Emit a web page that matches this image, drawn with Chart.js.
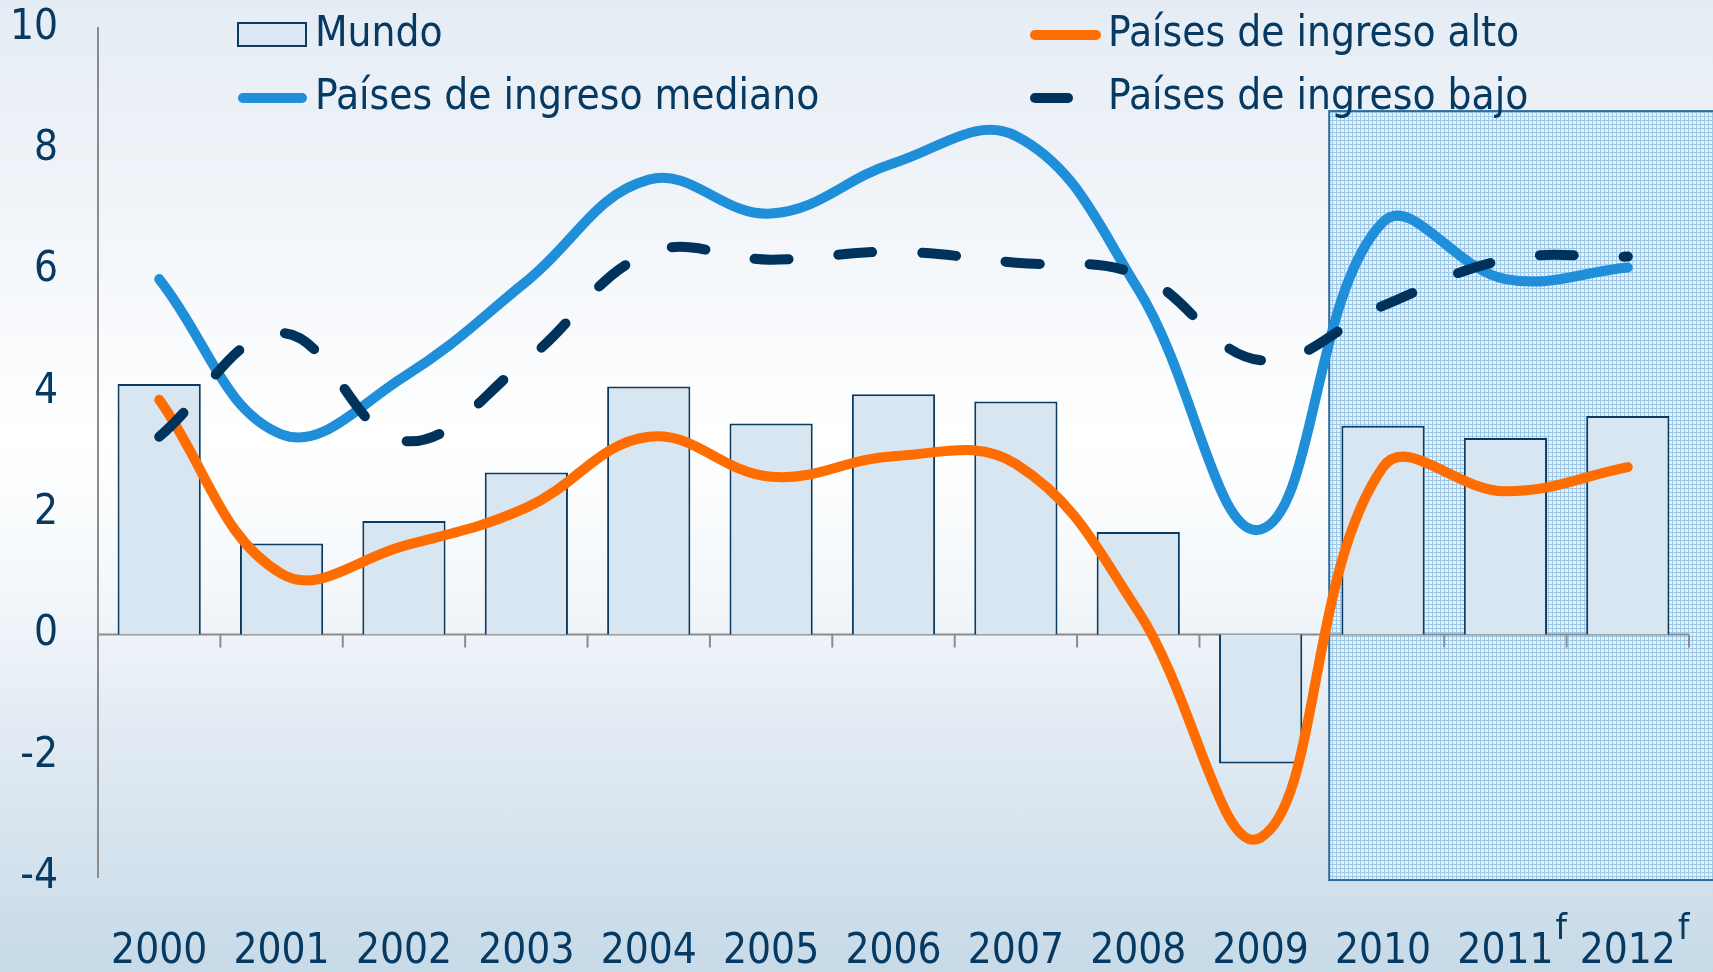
<!DOCTYPE html>
<html lang="es">
<head>
<meta charset="UTF-8">
<title>Crecimiento del PIB</title>
<script src="https://cdn.jsdelivr.net/npm/chart.js@4/dist/chart.umd.min.js"></script>
<style>
  html, body { margin: 0; padding: 0; }
  body {
    width: 1713px; height: 972px; overflow: hidden;
    background: linear-gradient(to bottom, #e5ecf4 0%, #f3f6fa 25%, #ffffff 45%, #f4f8fb 60%, #e2ebf3 75%, #c7dae8 100%);
  }
  canvas { display: block; }
</style>
</head>
<body>
<canvas id="chart" width="1713" height="972"></canvas>
<script>
// --- datos ---
const years = ['2000', '2001', '2002', '2003', '2004', '2005', '2006', '2007', '2008', '2009', '2010', '2011', '2012'];
const forecast = [false, false, false, false, false, false, false, false, false, false, false, true, true];

const mundo   = [4.13, 1.50, 1.87, 2.67, 4.09, 3.48, 3.96, 3.84, 1.69, -2.13, 3.44, 3.24, 3.60];
const alto    = [3.87, 1.00, 1.46, 2.09, 3.26, 2.60, 2.94, 2.81, 0.38, -3.35, 2.76, 2.36, 2.76];
const mediano = [5.86, 3.30, 4.25, 5.82, 7.50, 6.94, 7.77, 8.22, 5.69, 1.73, 6.80, 5.86, 6.05];
const bajo    = [3.26, 4.97, 3.19, 4.52, 6.29, 6.18, 6.31, 6.13, 5.93, 4.52, 5.42, 6.18, 6.23];

const yTicks = [10, 8, 6, 4, 2, 0, -2, -4];

// zona de proyecciones (en unidades de los ejes)
const shadeFrom = 9.56;
const shadeTop = 8.63;
const shadeBottom = -4.05;

const FONT = "'DejaVu Sans Condensed', 'DejaVu Sans', sans-serif";
const INK = '#063a62';
const TICK_SIZE = 42;

// trama del área sombreada
function makePattern(ctx) {
  const c = document.createElement('canvas');
  c.width = 4; c.height = 4;
  const p = c.getContext('2d');
  p.fillStyle = '#e6f0f9';
  p.fillRect(0, 0, 4, 4);
  p.fillStyle = '#9ec8e8';
  p.fillRect(0, 0, 4, 1);
  p.fillRect(0, 0, 1, 4);
  return ctx.createPattern(c, 'repeat');
}

const shadePlugin = {
  id: 'shade',
  beforeDraw(chart) {
    const ctx = chart.ctx;
    const x = chart.scales.x, y = chart.scales.y;
    const left = x.getPixelForValue(shadeFrom);
    const top = y.getPixelForValue(shadeTop);
    const bottom = y.getPixelForValue(shadeBottom);
    ctx.save();
    ctx.fillStyle = makePattern(ctx);
    ctx.fillRect(left, top, chart.width - left + 5, bottom - top);
    ctx.strokeStyle = '#2f6c9c';
    ctx.lineWidth = 2;
    ctx.strokeRect(left, top, chart.width - left + 5, bottom - top);

    // eje horizontal en cero con marcas entre categorías
    const y0 = y.getPixelForValue(0);
    ctx.strokeStyle = '#8c8c8c';
    ctx.lineWidth = 2;
    ctx.beginPath();
    ctx.moveTo(chart.chartArea.left, y0);
    ctx.lineTo(chart.chartArea.right, y0);
    for (let i = 0; i <= years.length; i++) {
      const px = x.getPixelForValue(i - 0.5);
      ctx.moveTo(px, y0);
      ctx.lineTo(px, y0 + 13);
    }
    ctx.stroke();
    ctx.restore();
  },
  afterDraw(chart) {
    const ctx = chart.ctx;
    const x = chart.scales.x;
    ctx.save();
    // superíndice "f" de proyección
    ctx.fillStyle = INK;
    ctx.textBaseline = 'alphabetic';
    ctx.textAlign = 'left';
    years.forEach((lab, i) => {
      if (!forecast[i]) return;
      ctx.font = TICK_SIZE + 'px ' + FONT;
      const w = ctx.measureText(lab).width;
      ctx.font = '36px ' + FONT;
      ctx.fillText('f', x.getPixelForTick(i) + w / 2 + 2, x.bottom - 33);
    });

    // leyenda
    ctx.font = '42px ' + FONT;
    ctx.textBaseline = 'middle';
    const rows = [35, 98];
    const col1 = 238, col2 = 1030;
    // Mundo
    ctx.fillStyle = '#dbe7f2';
    ctx.fillRect(col1, rows[0] - 12, 68, 23);
    ctx.strokeStyle = '#0d3b60';
    ctx.lineWidth = 2;
    ctx.strokeRect(col1, rows[0] - 12, 68, 23);
    ctx.fillStyle = INK;
    ctx.fillText('Mundo', col1 + 77, rows[0]);
    // mediano
    ctx.lineCap = 'round';
    ctx.lineWidth = 10;
    ctx.strokeStyle = '#1e8fd8';
    ctx.beginPath(); ctx.moveTo(col1 + 5, rows[1]); ctx.lineTo(col1 + 64, rows[1]); ctx.stroke();
    ctx.fillText('Países de ingreso mediano', col1 + 77, rows[1]);
    // alto
    ctx.strokeStyle = '#ff6c00';
    ctx.beginPath(); ctx.moveTo(col2 + 5, rows[0]); ctx.lineTo(col2 + 66, rows[0]); ctx.stroke();
    ctx.fillText('Países de ingreso alto', col2 + 78, rows[0]);
    // bajo
    ctx.strokeStyle = '#00335c';
    ctx.beginPath(); ctx.moveTo(col2 + 5, rows[1]); ctx.lineTo(col2 + 38, rows[1]); ctx.stroke();
    ctx.fillText('Países de ingreso bajo', col2 + 78, rows[1]);
    ctx.restore();
  }
};

const lineBase = {
  type: 'line',
  borderWidth: 10,
  tension: 0.4,
  pointRadius: 0,
  borderCapStyle: 'round',
  borderJoinStyle: 'round',
  fill: false
};

new Chart(document.getElementById('chart'), {
  data: {
    labels: years,
    datasets: [
      {
        type: 'bar', label: 'Mundo', data: mundo,
        backgroundColor: '#d8e6f1', borderColor: '#0d3b60', borderWidth: 2,
        barPercentage: 0.68, categoryPercentage: 1, order: 4
      },
      Object.assign({}, lineBase, { label: 'Países de ingreso mediano', data: mediano, borderColor: '#1e8fd8', order: 3 }),
      Object.assign({}, lineBase, { label: 'Países de ingreso alto', data: alto, borderColor: '#ff6c00', order: 2 }),
      Object.assign({}, lineBase, { label: 'Países de ingreso bajo', data: bajo, borderColor: '#00335c', borderDash: [34, 50], order: 1 })
    ]
  },
  options: {
    responsive: false,
    animation: false,
    layout: { padding: { top: 28, right: 24, left: 0, bottom: 0 } },
    plugins: { legend: { display: false }, tooltip: { enabled: false } },
    scales: {
      x: {
        grid: { display: false, drawTicks: false },
        border: { display: false },
        ticks: { color: INK, font: { family: FONT, size: TICK_SIZE, lineHeight: 1 }, padding: 54, maxRotation: 0, autoSkip: false },
        afterFit(s) { s.height = 95; s.paddingLeft = 0; s.paddingRight = 0; }
      },
      y: {
        min: -4, max: 10,
        afterBuildTicks(s) { s.ticks = yTicks.map(v => ({ value: v })); },
        grid: { display: false, drawTicks: false },
        border: { display: true, color: '#8c8c8c', width: 2 },
        ticks: { color: INK, font: { family: FONT, size: 42 }, padding: 40 },
        afterFit(s) { s.width = 98; s.paddingTop = 0; s.paddingBottom = 0; }
      }
    }
  },
  plugins: [shadePlugin]
});
</script>
</body>
</html>
